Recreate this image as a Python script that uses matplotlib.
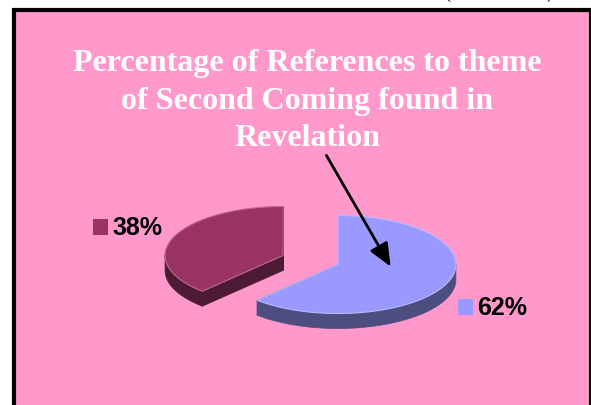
import numpy as np
import matplotlib
matplotlib.use("Agg")
import matplotlib.pyplot as plt
from matplotlib.patches import Polygon, Rectangle

# chart data
labels = ["38%", "62%"]
values = [38, 62]
top_colors = ["#993366", "#9999FF"]
side_colors = ["#4D1A33", "#4D4D80"]
edge_colors = ["#C0668F", "#B8B8FF"]
title_lines = ["Percentage of References to theme",
               "of Second Coming found in",
               "Revelation"]

W, H = 591, 406
fig = plt.figure(figsize=(W / 100, H / 100), dpi=100)
fig.patch.set_facecolor("white")
ax = fig.add_axes([0, 0, 1, 1])
ax.set_xlim(0, W)
ax.set_ylim(H, 0)
ax.axis("off")

# pink panel with black frame
ax.add_patch(Rectangle((14, 11), 577, 420, facecolor="#FF99CC",
                       edgecolor="black", linewidth=3, zorder=0))

# cut-off text at the very top
ax.text(447, 2, "(", fontsize=13, family="Liberation Serif", ha="center", va="bottom")
ax.text(549, 2, ")", fontsize=13, family="Liberation Serif", ha="center", va="bottom")

# title
for i, line in enumerate(title_lines):
    ax.text(307, 64 + i * 37.5, line, color="white", fontsize=23,
            family="Liberation Serif", weight="bold", ha="center", va="center")

# 3d exploded pie, drawn by hand
cx, cy = 310.5, 261
rx, ry = 118, 49
depth = 15
explode = 0.25


def pt(c, a, dy=0):
    return (c[0] + rx * np.cos(a), c[1] - ry * np.sin(a) + dy)


fracs = np.array(values, dtype=float) / sum(values)
# slices go clockwise from 12 o'clock, 62% first, so 38% is on the left
start = np.pi / 2
bounds = []
a = start
for f in fracs[::-1]:
    bounds.append((a - 2 * np.pi * f, a))
    a -= 2 * np.pi * f
bounds = bounds[::-1]

for i in range(len(values)):
    a0, a1 = bounds[i]
    mid = (a0 + a1) / 2
    c = (cx + explode * rx * np.cos(mid), cy - explode * ry * np.sin(mid))
    # radial walls
    for ang in (a0, a1):
        p = pt(c, ang)
        wall = [c, p, (p[0], p[1] + depth), (c[0], c[1] + depth)]
        ax.add_patch(Polygon(wall, closed=True, facecolor=side_colors[i],
                             edgecolor=side_colors[i], lw=0.5, zorder=2 + i))
    # outer wall, front half only
    angs = np.linspace(a0, a1, 200)
    angs = angs[np.sin(angs) <= 0.02]
    if len(angs):
        upper = [pt(c, t) for t in angs]
        lower = [pt(c, t, depth) for t in angs[::-1]]
        ax.add_patch(Polygon(upper + lower, closed=True, facecolor=side_colors[i],
                             edgecolor=side_colors[i], lw=0.5, zorder=2 + i))
    # top face
    angs = np.linspace(a0, a1, 200)
    top = [c] + [pt(c, t) for t in angs]
    ax.add_patch(Polygon(top, closed=True, facecolor=top_colors[i],
                         edgecolor=edge_colors[i], lw=0.8, zorder=2.5 + i))

# labels with colour keys
label_pos = [(93, 228), (458, 308)]
for i, (lx, ly) in enumerate(label_pos):
    ax.add_patch(Rectangle((lx, ly - 8), 15, 16, facecolor=top_colors[i],
                           edgecolor="none", zorder=5))
    ax.text(lx + 19, ly, labels[i], fontsize=18, family="Liberation Sans",
            weight="bold", ha="left", va="center", zorder=5)

# arrow from title to the 62% slice
ax.annotate("", xy=(392, 270), xytext=(325, 154),
            arrowprops=dict(arrowstyle="-|>,head_length=1.4,head_width=0.6",
                            color="black", lw=2), zorder=6)

fig.savefig("out.png", dpi=100, facecolor="white")
